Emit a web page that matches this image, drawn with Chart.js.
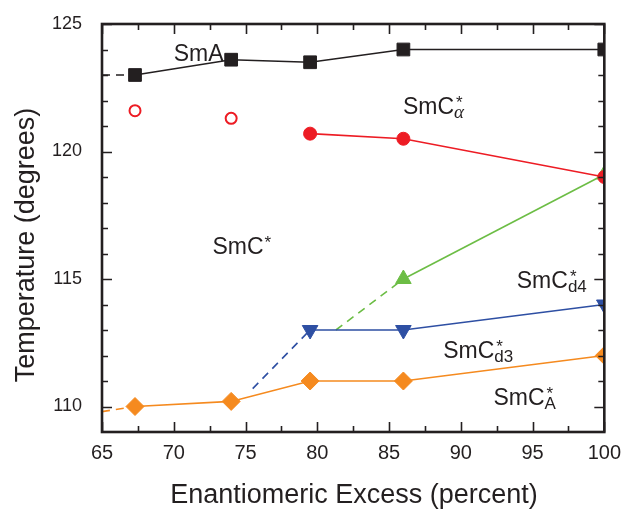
<!DOCTYPE html>
<html>
<head>
<meta charset="utf-8">
<script src="https://cdn.jsdelivr.net/npm/chart.js@4"></script>
<style>
  html, body { margin: 0; padding: 0; background: #fff; }
  #wrap { width: 622px; height: 509px; position: relative; }
</style>
</head>
<body>
<div id="wrap"><canvas id="chart"></canvas></div>
<script>
// --- DATA ---
const xTickLabels = [65, 70, 75, 80, 85, 90, 95, 100];
const yTickLabels = [110, 115, 120, 125];

// SmA boundary (black squares)
const smaX = [67.3, 74, 79.5, 86, 100];
const smaT = [123.0, 123.6, 123.5, 124.0, 124.0];
const smaDashX = [65, 67.3];
const smaDashT = [123.0, 123.0];

// SmC*alpha boundary (red circles, open = uncertain)
const alphaOpenX = [67.3, 74];
const alphaOpenT = [121.6, 121.3];
const alphaX = [79.5, 86, 100];
const alphaT = [120.7, 120.5, 119.0];

// SmC*d4 boundary (green up triangles)
const d4X = [86, 100];
const d4T = [115.0, 119.1];
const d4DashX = [81.3, 86];
const d4DashT = [113.0, 115.0];

// SmC*d3 boundary (blue down triangles)
const d3X = [79.5, 86, 100];
const d3T = [113.0, 113.0, 114.0];
const d3DashX = [75.5, 79.5];
const d3DashT = [110.7, 113.0];

// SmC*A boundary (orange diamonds)
const antiX = [67.3, 74, 79.5, 86, 100];
const antiT = [110.0, 110.2, 111.0, 111.0, 112.0];
const antiDashX = [65, 67.3];
const antiDashT = [109.8, 110.0];

// phase names, placed in data units
const phaseLabels = [
    { main: 'SmA', x: 70.0, t: 123.56 },
    { main: 'SmC', star: true, sub: 'α', x: 85.97, t: 121.48 },
    { main: 'SmC', star: true, x: 72.7, t: 115.98 },
    { main: 'SmC', star: true, sub: 'd4', x: 93.9, t: 114.65 },
    { main: 'SmC', star: true, sub: 'd3', x: 88.77, t: 111.9 },
    { main: 'SmC', star: true, sub: 'A', x: 92.27, t: 110.05 }
];

const INK = '#231f20';
const FONT = '"Liberation Sans", Arial, sans-serif';
const colors = { black: '#231f20', red: '#ed1c24', green: '#6cbd45', blue: '#2e4fa3', orange: '#f58a1f' };

const pts = (xs, ts) => xs.map((x, i) => ({ x: x, y: ts[i] }));

function solid(xs, ts, color, style, radius, extra) {
    return Object.assign({
        data: pts(xs, ts),
        borderColor: color,
        backgroundColor: color,
        borderWidth: 1.6,
        pointStyle: style,
        pointRadius: radius,
        pointBorderWidth: 1,
        pointBackgroundColor: color,
        pointBorderColor: color,
        clip: 0
    }, extra || {});
}

function dashed(xs, ts, color) {
    return {
        data: pts(xs, ts),
        borderColor: color,
        borderWidth: 1.6,
        borderDash: [8, 6],
        pointRadius: 0,
        clip: 0
    };
}

// frame, inward ticks, axis titles and phase names
const decorPlugin = {
    id: 'decor',
    afterDraw(chart) {
        const { ctx, chartArea: a, scales: { x, y } } = chart;
        ctx.save();
        ctx.strokeStyle = INK;
        ctx.lineWidth = 1.6;
        for (let v = 65; v <= 100; v += 2.5) {
            const px = Math.round(x.getPixelForValue(v)) + 0.5;
            const len = v % 5 === 0 ? 10 : 6;
            ctx.beginPath();
            ctx.moveTo(px, a.bottom); ctx.lineTo(px, a.bottom - len);
            ctx.moveTo(px, a.top); ctx.lineTo(px, a.top + len);
            ctx.stroke();
        }
        for (let v = 110; v <= 125; v += 1) {
            const py = Math.round(y.getPixelForValue(v)) + 0.5;
            const len = v % 5 === 0 ? 10 : 6;
            ctx.beginPath();
            ctx.moveTo(a.left, py); ctx.lineTo(a.left + len, py);
            ctx.moveTo(a.right, py); ctx.lineTo(a.right - len, py);
            ctx.stroke();
        }
        ctx.lineWidth = 2.6;
        ctx.strokeRect(a.left, a.top, a.right - a.left, a.bottom - a.top);

        ctx.fillStyle = INK;
        ctx.font = '27px ' + FONT;
        ctx.textAlign = 'center';
        ctx.textBaseline = 'alphabetic';
        ctx.fillText('Enantiomeric Excess (percent)', 354, 503);
        ctx.save();
        ctx.translate(34, 245);
        ctx.rotate(-Math.PI / 2);
        ctx.fillText('Temperature (degrees)', 0, 0);
        ctx.restore();

        ctx.textAlign = 'left';
        phaseLabels.forEach(l => {
            const px = x.getPixelForValue(l.x);
            const py = y.getPixelForValue(l.t);
            ctx.font = '23px ' + FONT;
            ctx.fillText(l.main, px, py);
            const w = ctx.measureText(l.main).width;
            if (l.star) {
                ctx.font = '17px ' + FONT;
                ctx.fillText('*', px + w + (l.sub ? 2 : 1), py - 6);
            }
            if (l.sub) {
                ctx.font = l.sub === 'α' ? 'italic 19px "Liberation Serif", serif' : '17px ' + FONT;
                ctx.fillText(l.sub, px + w, py + 4);
            }
        });
        ctx.restore();
    }
};

new Chart(document.getElementById('chart'), {
    type: 'line',
    data: {
        datasets: [
            solid(smaX, smaT, colors.black, 'rect', 9),
            solid(alphaOpenX, alphaOpenT, colors.red, 'circle', 5.5,
                { showLine: false, pointBackgroundColor: '#fff', pointBorderWidth: 2 }),
            solid(alphaX, alphaT, colors.red, 'circle', 6.5),
            solid(d4X, d4T, colors.green, 'triangle', 9),
            solid(d3X, d3T, colors.blue, 'triangle', 9, { pointRotation: 180 }),
            solid(antiX, antiT, colors.orange, 'rectRot', 9),
            dashed(smaDashX, smaDashT, colors.black),
            dashed(d4DashX, d4DashT, colors.green),
            dashed(d3DashX, d3DashT, colors.blue),
            dashed(antiDashX, antiDashT, colors.orange)
        ]
    },
    options: {
        responsive: true,
        maintainAspectRatio: false,
        animation: false,
        layout: { padding: { top: 24, right: 14, left: 0, bottom: 0 } },
        plugins: { legend: { display: false }, tooltip: { enabled: false } },
        scales: {
            x: {
                type: 'linear',
                min: 65, max: 100,
                grid: { display: false },
                border: { display: false },
                afterBuildTicks: s => { s.ticks = xTickLabels.map(v => ({ value: v })); },
                afterFit: s => { s.height = 77; },
                ticks: { color: INK, font: { family: FONT, size: 20 }, padding: 1, maxRotation: 0, autoSkip: false }
            },
            y: {
                type: 'linear',
                min: 109, max: 125,
                grid: { display: false },
                border: { display: false },
                afterBuildTicks: s => { s.ticks = yTickLabels.map(v => ({ value: v })); },
                afterFit: s => { s.width = 102; s.paddingTop = 0; s.paddingBottom = 0; },
                ticks: { color: INK, font: { family: FONT, size: 18 }, padding: 12 }
            }
        }
    },
    plugins: [decorPlugin]
});
</script>
</body>
</html>
